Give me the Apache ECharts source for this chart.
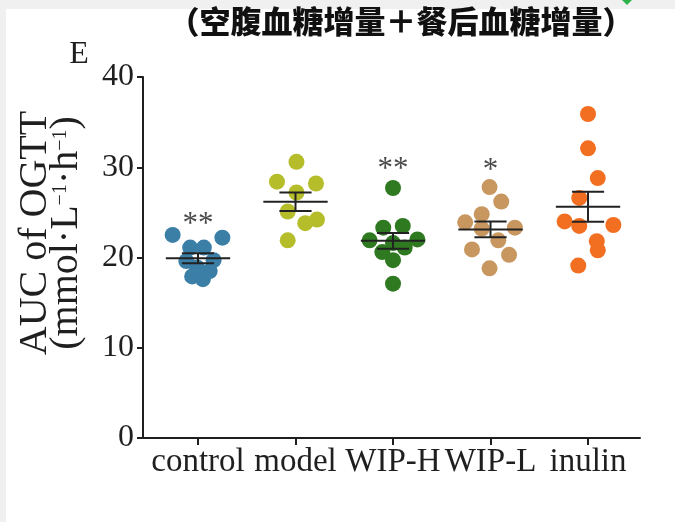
<!DOCTYPE html>
<html>
<head>
<meta charset="utf-8">
<script src="https://cdn.jsdelivr.net/npm/echarts@6/dist/echarts.min.js"></script>
<style>
  html, body { margin: 0; padding: 0; background: #ffffff; }
  #chart { width: 675px; height: 522px; }
</style>
</head>
<body>
<div id="chart"></div>
<script>
// Groups on the x axis
const groups = ['control', 'model', 'WIP-H', 'WIP-L', 'inulin'];
const groupColors = ['#3b7fa7', '#b6bd2b', '#2f7a21', '#c8975f', '#f26f21'];

// AUC of OGTT per animal (mmol·L⁻¹·h⁻¹)
const controlValues = [22.5, 22.2, 21.1, 21.1, 19.6, 19.7, 18.9, 18.5, 17.9, 17.6];
const modelValues   = [30.6, 28.4, 28.2, 27.2, 25.1, 23.8, 24.2, 21.9];
const wipHValues    = [27.7, 23.3, 23.5, 21.9, 22.0, 20.6, 21.1, 19.7, 17.1, 21.6];
const wipLValues    = [27.8, 26.2, 24.8, 23.9, 23.2, 23.3, 21.9, 20.9, 20.3, 18.8];
const inulinValues  = [35.9, 32.1, 28.8, 26.6, 24.0, 23.5, 23.6, 21.8, 20.8, 19.1];

// Horizontal spread of the dots inside each group (category units)
const controlJitter = [-0.26, 0.25, -0.08, 0.06, -0.12, 0.16, -0.01, 0.12, -0.06, 0.05];
const modelJitter   = [0.01, -0.19, 0.21, 0.01, -0.08, 0.10, 0.22, -0.08];
const wipHJitter    = [0, -0.10, 0.10, -0.24, 0.25, -0.11, 0.12, 0, 0, 0];
const wipLJitter    = [-0.01, 0.11, -0.09, -0.26, -0.09, 0.25, 0.08, -0.19, 0.19, -0.01];
const inulinJitter  = [0, 0, 0.10, -0.09, -0.24, -0.09, 0.26, 0.09, 0.10, -0.10];

const allValues = [controlValues, modelValues, wipHValues, wipLValues, inulinValues];
const allJitter = [controlJitter, modelJitter, wipHJitter, wipLJitter, inulinJitter];

// Significance marks vs. model
const sigGroups = [0, 2, 3];
const sigMarks  = ['**', '**', '*'];
const sigLevels = [23.6, 29.7, 29.6];

const yTicks = [0, 10, 20, 30, 40];

// mean ± SEM for each group
function meanSem(arr) {
  const n = arr.length;
  const m = arr.reduce((a, b) => a + b, 0) / n;
  const sd = Math.sqrt(arr.reduce((a, b) => a + (b - m) * (b - m), 0) / (n - 1));
  return [m, sd / Math.sqrt(n)];
}
const summary = allValues.map((vals, i) => {
  const [m, s] = meanSem(vals);
  return [i, m, s];
});

const serif = '"Liberation Serif", "DejaVu Serif", serif';
const ink = '#1f1f1f';

const scatterSeries = allValues.map((vals, i) => ({
  type: 'scatter',
  name: groups[i],
  symbol: 'circle',
  symbolSize: 16,
  itemStyle: { color: groupColors[i], opacity: 1 },
  z: 2,
  data: vals.map((v, k) => [i + allJitter[i][k], v])
}));

const chart = echarts.init(document.getElementById('chart'), null, { renderer: 'canvas' });

chart.setOption({
  backgroundColor: '#ffffff',
  animation: false,
  grid: { left: 143, right: 35, top: 77, bottom: 84, containLabel: false },
  xAxis: {
    type: 'value',
    min: -0.564,
    max: 4.533,
    splitLine: { show: false },
    axisLine: { show: true, onZero: false, lineStyle: { color: ink, width: 2 } },
    axisTick: {
      show: true, customValues: [0, 1, 2, 3, 4], length: 7, inside: false,
      lineStyle: { color: ink, width: 2 }
    },
    axisLabel: {
      customValues: [0, 1, 2, 3, 4],
      formatter: v => groups[Math.round(v)],
      fontFamily: serif, fontSize: 33, color: ink, margin: 8
    }
  },
  yAxis: {
    type: 'value',
    min: yTicks[0],
    max: yTicks[yTicks.length - 1],
    interval: 10,
    splitLine: { show: false },
    axisLine: { show: true, onZero: false, lineStyle: { color: ink, width: 2 } },
    axisTick: { show: true, length: 6, inside: false, lineStyle: { color: ink, width: 2 } },
    axisLabel: { fontFamily: serif, fontSize: 32, color: ink, margin: 9 }
  },
  series: [
    ...scatterSeries,
    {
      type: 'custom',
      name: 'mean ± SEM',
      z: 5,
      data: summary,
      renderItem(params, api) {
        const i = api.value(0), m = api.value(1), s = api.value(2);
        const l = api.coord([i - 0.33, m]);
        const r = api.coord([i + 0.33, m]);
        const top = api.coord([i, m + s]);
        const bot = api.coord([i, m - s]);
        const capL = api.coord([i - 0.165, m])[0];
        const capR = api.coord([i + 0.165, m])[0];
        const st = { stroke: '#222', lineWidth: 2, fill: null };
        return {
          type: 'group',
          children: [
            { type: 'line', shape: { x1: l[0], y1: l[1], x2: r[0], y2: r[1] }, style: st },
            { type: 'line', shape: { x1: top[0], y1: top[1], x2: bot[0], y2: bot[1] }, style: st },
            { type: 'line', shape: { x1: capL, y1: top[1], x2: capR, y2: top[1] }, style: st },
            { type: 'line', shape: { x1: capL, y1: bot[1], x2: capR, y2: bot[1] }, style: st }
          ]
        };
      }
    },
    {
      type: 'custom',
      name: 'significance',
      z: 6,
      data: sigGroups.map((g, k) => [g, sigLevels[k], k]),
      renderItem(params, api) {
        const p = api.coord([api.value(0), api.value(1)]);
        return {
          type: 'text',
          x: p[0], y: p[1],
          style: {
            text: sigMarks[api.value(2)],
            fontFamily: serif, fontSize: 31, fill: '#4a4a4a',
            align: 'center', verticalAlign: 'middle'
          }
        };
      }
    }
  ],
  graphic: [
    { type: 'rect', shape: { x: 0, y: 0, width: 675, height: 9 }, style: { fill: '#f0f0f0' }, z: 0 },
    { type: 'rect', shape: { x: 0, y: 0, width: 6, height: 522 }, style: { fill: '#f0f0f0' }, z: 0 },
    { type: 'polygon', shape: { points: [[622, 0], [632, 0], [627, 5]] }, style: { fill: '#2db34a' }, z: 1 },
    {
      type: 'text', x: 401, y: 21, z: 10,
      style: {
        text: '（空腹血糖增量＋餐后血糖增量）',
        font: '900 31px "Noto Sans CJK SC", sans-serif',
        fill: '#111', align: 'center', verticalAlign: 'middle'
      }
    },
    {
      type: 'text', x: 79, y: 55, z: 10,
      style: { text: 'E', font: '32px ' + serif, fill: ink, align: 'center', verticalAlign: 'middle' }
    },
    {
      type: 'text', x: 51, y: 233, rotation: Math.PI / 2, z: 10,
      style: {
        text: '{t|AUC of OGTT}\n{t|(mmol·L}{s|−1}{t|·h}{s|−1}{t|)}',
        align: 'center', verticalAlign: 'middle',
        rich: {
          t: { fontFamily: serif, fontSize: 40, lineHeight: 31, fill: ink },
          s: { fontFamily: serif, fontSize: 20, lineHeight: 31, fill: ink, verticalAlign: 'top' }
        }
      }
    }
  ]
});
</script>
</body>
</html>
